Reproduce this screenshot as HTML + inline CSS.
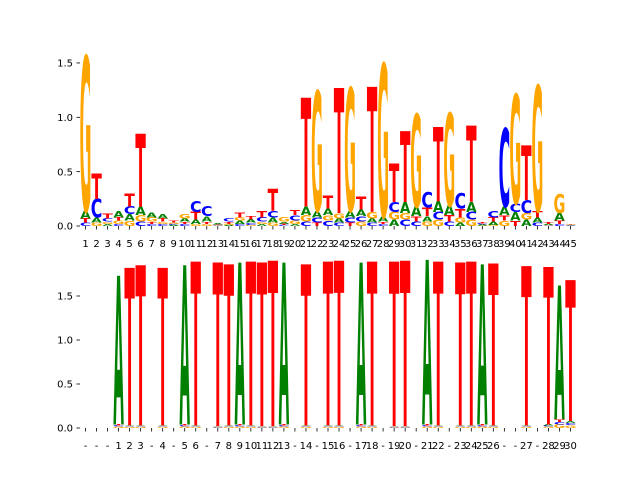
<!DOCTYPE html>
<html><head><meta charset="utf-8"><style>
body{margin:0;background:#fff}
svg{display:block}
text{font-family:"DejaVu Sans","Liberation Sans",sans-serif}
</style></head><body>
<svg id="chart" width="640" height="480" viewBox="0 0 640 480" xmlns="http://www.w3.org/2000/svg">
<g id="toppanel"></g>
<g id="botpanel"></g>
</svg>
<script>
// Top panel data (bits per letter at positions 1..45)
const topA=[.07,.05,.02,.06,.06,.08,.05,.04,.01,.03,.04,.05,.01,.01,.03,.03,.02,.05,.02,.02,.08,.06,.06,.04,.06,.06,.04,.05,.06,.1,.09,.05,.1,.09,.03,.09,.01,.03,.08,.08,.06,.05,.01,.07,.005];
const topC=[.03,.17,.03,.02,.07,.04,.02,.02,.01,.02,.1,.09,.005,.03,.02,.02,.04,.06,.01,.05,.04,.05,.05,.03,.05,.05,.03,.02,.09,.06,.04,.14,.07,.04,.14,.07,.01,.06,.72,.08,.12,.03,.005,.02,.005];
const topG=[1.42,.03,.02,.03,.05,.06,.04,.02,.01,.04,.02,.02,.005,.01,.03,.01,.02,.03,.04,.03,.06,1.1,.05,.05,1.13,.04,.06,1.4,.07,.06,.85,.04,.06,.85,.05,.06,.005,.01,.05,1.0,.06,1.15,.005,.17,.005];
const topT=[.04,.23,.05,.03,.12,.67,.02,.03,.02,.02,.07,.02,.005,.02,.05,.03,.06,.2,.01,.05,1.0,.03,.12,1.15,.03,.12,1.15,.02,.35,.65,.05,.08,.68,.06,.08,.7,.01,.04,.05,.05,.5,.06,.02,.03,.005];
const topTicks=[];for(let i=1;i<=45;i++)topTicks.push(String(i));
const topYTicks=[0,0.5,1.0,1.5];
// Bottom panel data
const botLabels=['-','-','-','1','2','3','-','4','-','5','6','-','7','8','9','10','11','12','13','-','14','-','15','16','-','17','18','-','19','20','-','21','22','-','23','24','25','26','-','-','27','-','28','29','30'];
const botLetter=['','','','A','T','T','','T','','A','T','','T','T','A','T','T','T','A','','T','','T','T','','A','T','','T','T','','A','T','','T','T','A','T','','','T','','T','A','T'];
const botHeight=[0,0,0,1.69,1.79,1.82,0,1.79,0,1.81,1.86,0,1.86,1.83,1.84,1.86,1.86,1.88,1.84,0,1.83,0,1.86,1.87,0,1.84,1.86,0,1.87,1.88,0,1.87,1.86,0,1.85,1.86,1.82,1.84,0,0,1.81,0,1.79,1.52,1.6];
const botBase=[0,0,0,.04,.03,.03,0,.03,0,.04,.03,0,.02,.03,.04,.03,.02,.02,.04,0,.03,0,.03,.03,0,.04,.03,0,.02,.02,0,.04,.03,0,.03,.03,.04,.03,0,0,.03,0,.04,.1,.08];
const botYTicks=[0,0.5,1.0,1.5];

const NS='http://www.w3.org/2000/svg';
const COL={A:'#008000',C:'#0000ff',G:'#ffa500',T:'#ff0000'};
const INK={A:77,C:66,G:72,T:68};
const xPos=i=>80+(i+0.5)*(496/45);
const yTop=v=>226-v*108.7;
const yBot=v=>428-v*88;
const W=10.4;
function mk(tag,attrs,parent){const e=document.createElementNS(NS,tag);for(const k in attrs)e.setAttribute(k,attrs[k]);parent.appendChild(e);return e;}
function letter(parent,ch,cx,yb,hpx){
  if(hpx<0.3)return;
  const t=mk('text',{'text-anchor':'middle','font-size':100,'font-weight':'bold',fill:COL[ch],
    transform:`translate(${cx},${yb}) scale(${W/INK[ch]},${hpx/72.9})`},parent);
  
  
  t.textContent=ch;
}
function axes(parent,yf,yt,xl,xLabY){
  yt.forEach(v=>{
    const y=yf(v);
    const l=mk('line',{x1:76.5,x2:80,y1:y,y2:y,stroke:'#000','stroke-width':0.8},parent);
    
    
    const t=mk('text',{x:73,y:y+3.6,'text-anchor':'end','font-size':10,fill:'#000'},parent);
    
    
    t.textContent=v.toFixed(1);
  });
  xl.forEach((s,i)=>{
    const x=xPos(i);const y0=yf(0);
    const l=mk('line',{x1:x,x2:x,y1:y0,y2:y0+3.5,stroke:'#000','stroke-width':0.8},parent);
    
    
    const t=mk('text',{x:x,y:xLabY,'text-anchor':'middle','font-size':10,fill:'#000'},parent);
    
    
    t.textContent=s;
  });
}
const topPanel=document.getElementById('toppanel');
for(let i=0;i<45;i++){
  const items=[['A',topA[i]],['C',topC[i]],['G',topG[i]],['T',topT[i]]].sort((a,b)=>a[1]-b[1]);
  let acc=0;
  items.forEach(([ch,h])=>{letter(topPanel,ch,xPos(i),yTop(acc),h*108.7);acc+=h;});
}
axes(topPanel,yTop,topYTicks,topTicks,247);
const botPanel=document.getElementById('botpanel');
for(let i=0;i<45;i++){
  if(!botLetter[i])continue;
  const b=botBase[i];
  letter(botPanel,'G',xPos(i),yBot(0),b*0.4*88);
  letter(botPanel,'C',xPos(i),yBot(b*0.4),b*0.3*88);
  letter(botPanel,botLetter[i]==='A'?'T':'A',xPos(i),yBot(b*0.7),b*0.3*88);
  letter(botPanel,botLetter[i],xPos(i),yBot(b),botHeight[i]*88);
}
axes(botPanel,yBot,botYTicks,botLabels,449);
</script>
</body></html>
